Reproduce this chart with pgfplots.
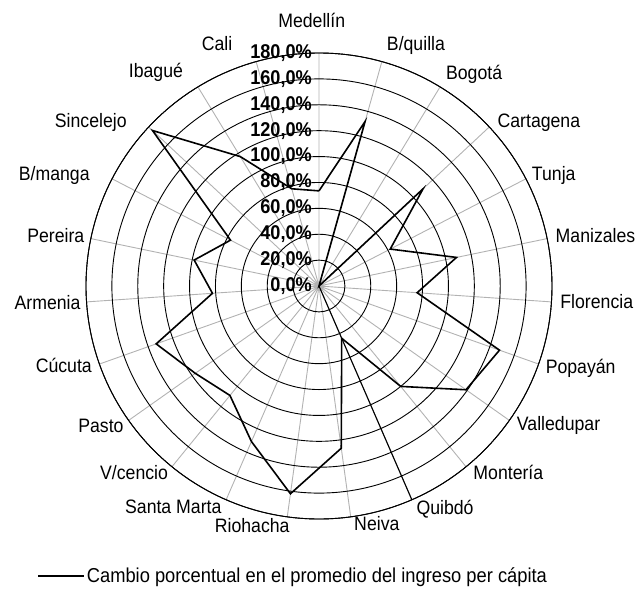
\documentclass[border=0pt]{standalone}
\usepackage{fontspec}
\setmainfont{Liberation Sans}[FakeStretch=0.91]
\usepackage{pgfplots}
\pgfplotsset{compat=1.18}
\usepgfplotslibrary{polar}

\newcommand{\lblfont}{\fontsize{19.5}{22}\selectfont}
\newcommand{\tickfont}{\fontsize{20}{22}\selectfont\bfseries}

\begin{document}
\begin{tikzpicture}[lbl/.style={anchor=center,inner sep=0pt,text height=14bp,text depth=0bp,font=\lblfont},
  val/.style={anchor=east,inner sep=0pt,xshift=-7bp,font=\tickfont}]
\useasboundingbox (-319bp,-310bp) rectangle (317bp,286bp);
\begin{polaraxis}[
at={(0,0)},anchor=center,
scale only axis,width=466bp,height=466bp,
clip=false,
xmin=0,xmax=360,ymin=0,ymax=180,
xtick={90,74.3478,58.6957,43.0435,27.3913,11.7391,356.0870,340.4348,324.7826,309.1304,293.4783,277.8261,262.1739,246.5217,230.8696,215.2174,199.5652,183.9130,168.2609,152.6087,136.9565,121.3043,105.6522},
xticklabels={},
ytick={20,40,60,80,100,120,140,160,180},
yticklabels={},
xmajorgrids,ymajorgrids,
x grid style={gray!60,line width=0.9bp},
y grid style={black,line width=0.9bp},
separate axis lines,
x axis line style={black,line width=0.9bp},
y axis line style={draw=none},
major tick length=0pt,
legend style={at={(-0.105,-0.122)},anchor=west,draw=none,fill=none,
  font=\fontsize{20.2}{22}\selectfont,inner sep=0pt},
legend image code/.code={\draw[#1] (0bp,0bp) -- (46bp,0bp);},
]
% Quibdo spoke drawn black in the original
\addplot[forget plot,black,line width=1.1bp] coordinates {(293.4783,0) (293.4783,180)};

\addplot[black,line width=1.6bp] coordinates {
(90,73.5) (74.3478,132) (58.6957,0) (43.0435,110) (27.3913,62) (11.7391,108.5)
(356.0870,76) (340.4348,148) (324.7826,139) (309.1304,100) (293.4783,44)
(277.8261,126.5) (262.1739,162) (246.5217,131) (230.8696,109) (215.2174,117)
(199.5652,133.5) (183.9130,82.5) (168.2609,98.5) (152.6087,77) (136.9565,176)
(121.3043,117) (105.6522,78) (90,73.5)};
\addlegendentry{Cambio porcentual en el promedio del ingreso per cápita}

% category names, placed as in the original
\node[lbl] at (axis cs:91.57,205.3) {Medellín};
\node[lbl] at (axis cs:68.2,201.7) {B/quilla};
\node[lbl] at (axis cs:54.0,203.9) {Bogotá};
\node[lbl] at (axis cs:37.0,212.7) {Cartagena};
\node[lbl] at (axis cs:25.6,201.1) {Tunja};
\node[lbl] at (axis cs:10.4,217.2) {Manizales};
\node[lbl] at (axis cs:356.9,214.9) {Florencia};
\node[lbl] at (axis cs:342.9,211.5) {Popayán};
\node[lbl] at (axis cs:330.2,213.3) {Valledupar};
\node[lbl] at (axis cs:315.5,205.1) {Montería};
\node[lbl] at (axis cs:299.7,196.6) {Quibdó};
\node[lbl] at (axis cs:283.7,188.7) {Neiva};
\node[lbl] at (axis cs:254.4,191.9) {Riohacha};
\node[lbl] at (axis cs:236.6,204.5) {Santa Marta};
\node[lbl] at (axis cs:225.3,203.1) {V/cencio};
\node[lbl] at (axis cs:212.6,200.0) {Pasto};
\node[lbl] at (axis cs:197.3,206.5) {Cúcuta};
\node[lbl] at (axis cs:183.4,210.1) {Armenia};
\node[lbl] at (axis cs:169.1,207.1) {Pereira};
\node[lbl] at (axis cs:157.0,222.2) {B/manga};
\node[lbl] at (axis cs:144.0,217.9) {Sincelejo};
\node[lbl] at (axis cs:127.1,208.9) {Ibagué};
\node[lbl] at (axis cs:112.8,203.1) {Cali};

% radial value labels along the Medellin spoke
\node[val] at (axis cs:90,0) {0,0\%};
\node[val] at (axis cs:90,20) {20,0\%};
\node[val] at (axis cs:90,40) {40,0\%};
\node[val] at (axis cs:90,60) {60,0\%};
\node[val] at (axis cs:90,80) {80,0\%};
\node[val] at (axis cs:90,100) {100,0\%};
\node[val] at (axis cs:90,120) {120,0\%};
\node[val] at (axis cs:90,140) {140,0\%};
\node[val] at (axis cs:90,160) {160,0\%};
\node[val] at (axis cs:90,180) {180,0\%};
\end{polaraxis}
\end{tikzpicture}
\end{document}
